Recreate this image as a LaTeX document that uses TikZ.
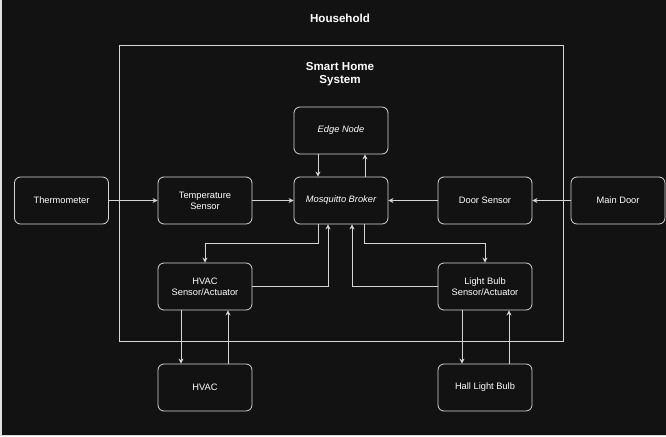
\documentclass[tikz,border=0pt]{standalone}
\usepackage{fontspec}
\setmainfont{Liberation Sans}
\usetikzlibrary{arrows.meta}
\definecolor{bg}{HTML}{121212}
\definecolor{ln}{HTML}{D6D6D6}

\begin{document}
\begin{tikzpicture}[x=1pt,y=-1pt,
  box/.style={draw=ln,line width=0.8pt,rounded corners=6pt,minimum width=94pt,minimum height=47pt,
    align=center,text=white,font=\fontsize{9.3}{11}\selectfont},
  link/.style={draw=ln,line width=0.8pt,-{Stealth[length=5pt,width=5pt]}},
  title/.style={text=white,align=center,font=\bfseries\fontsize{11.6}{13.5}\selectfont}]

\useasboundingbox (0,0) rectangle (666,436);
\fill[gray!25] (0,0) rectangle (666,436);
\fill[bg] (1.5,0) rectangle (666,434.5);

\node[title] (household) at (340,18) {Household};
\draw[ln,line width=0.8pt] (119,45) rectangle (563,341);
\node[title] (system) at (340,74) {Smart Home\\System};

% boxes
\node[box] (thermo) at (61.5,200.5) {Thermometer};
\node[box] (tempsensor) at (205,200.5) {Temperature\\Sensor};
\node[box,font=\itshape\fontsize{9.3}{11}\selectfont] (broker) at (341,200.5) {Mosquitto Broker};
\node[box] (doorsensor) at (485,200.5) {Door Sensor};
\node[box] (maindoor) at (618,200.5) {Main Door};
\node[box,font=\itshape\fontsize{9.3}{11}\selectfont] (edge) at (341,130.5) {Edge Node};
\node[box] (hvacsa) at (205,286.5) {HVAC\\Sensor/Actuator};
\node[box] (lightsa) at (485,286.5) {Light Bulb\\Sensor/Actuator};
\node[box] (hvac) at (205,387.5) {HVAC};
\node[box] (hallbulb) at (485,387.5) {Hall Light Bulb};

% links
\draw[link] (thermo) -- (tempsensor);
\draw[link] (tempsensor) -- (broker);
\draw[link] (doorsensor) -- (broker);
\draw[link] (maindoor) -- (doorsensor);
\draw[link] ([xshift=-23pt]edge.south) -- ([xshift=-23pt]broker.north);
\draw[link] ([xshift=24pt]broker.north) -- ([xshift=24pt]edge.south);
\draw[link] ([xshift=-23pt]broker.south) -- ++(0,19) -| (hvacsa.north);
\draw[link] ([xshift=23pt]broker.south) -- ++(0,19) -| (lightsa.north);
\draw[link] (hvacsa.east) -| ([xshift=-13pt]broker.south);
\draw[link] (lightsa.west) -| ([xshift=11pt]broker.south);
\draw[link] ([xshift=-24pt]hvacsa.south) -- ([xshift=-24pt]hvac.north);
\draw[link] ([xshift=23pt]hvac.north) -- ([xshift=23pt]hvacsa.south);
\draw[link] ([xshift=-23pt]lightsa.south) -- ([xshift=-23pt]hallbulb.north);
\draw[link] ([xshift=24pt]hallbulb.north) -- ([xshift=24pt]lightsa.south);
\end{tikzpicture}
\end{document}
